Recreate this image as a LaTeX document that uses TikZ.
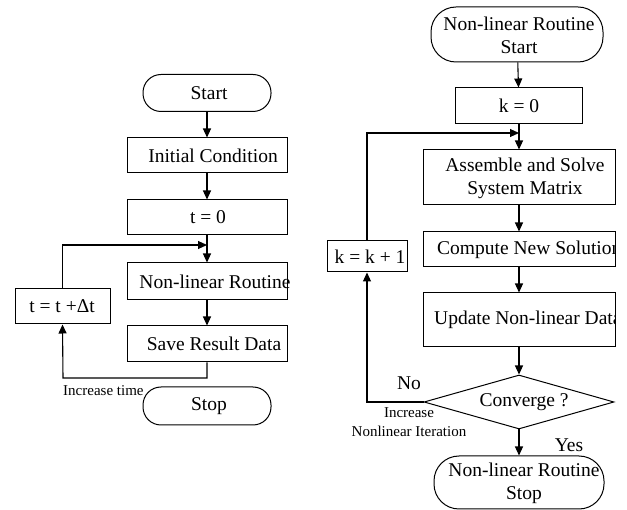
\documentclass[tikz,border=0pt]{standalone}
\usepackage{fontspec}
\setmainfont{Liberation Serif}
\usetikzlibrary{arrows.meta,shapes.geometric}
\begin{document}
\begin{tikzpicture}[x=1pt,y=-1pt,
  every node/.style={font=\fontsize{19.5}{23}\selectfont},
  box/.style={draw,line width=1pt,inner sep=0pt},
  term/.style={box,rounded corners=18pt},
  bigterm/.style={box,rounded corners=25pt},
  txt/.style={inner sep=0pt,align=center},
  small/.style={inner sep=0pt,align=center,font=\fontsize{15}{19}\selectfont},
  arr/.style={line width=1.1pt,-{Triangle[length=9pt,width=8pt]}},
  ln/.style={line width=1.1pt}]
\useasboundingbox (0,0) rectangle (627,510);
% ---------- left flow ----------
\node[term,minimum width=128pt,minimum height=37pt] (start) at (207,93) {};
\node[txt] (startT) at (209,93) {Start};
\node[box,minimum width=160pt,minimum height=35pt] (init) at (207,155.5) {};
\node[txt] (initT) at (213,155.5) {Initial Condition};
\node[box,minimum width=160pt,minimum height=35pt] (t0) at (207,217.5) {};
\node[txt] (t0T) at (208,217.5) {t = 0};
\node[box,minimum width=160pt,minimum height=37pt] (nlr) at (207,281.5) {};
\node[txt] (nlrT) at (215,281.5) {Non-linear Routine};
\node[box,minimum width=160pt,minimum height=36pt] (save) at (207,344) {};
\node[txt] (saveT) at (214,344) {Save Result Data};
\node[box,minimum width=95pt,minimum height=35pt] (tinc) at (62.5,306.5) {};
\node[txt] (tincT) at (62,306.5) {t = t +Δt};
\node[term,minimum width=128pt,minimum height=38pt] (stop) at (207,406) {};
\node[txt] (stopT) at (209,406) {Stop};
\node[small,anchor=west] (inctime) at (63,391) {Increase time};
\coordinate (fbL) at (63,378);
\coordinate (lpJ) at (207,245);
\draw[arr] (start) -- (init);
\draw[arr] (init) -- (t0);
\draw[arr] (t0) -- (nlr);
\draw[arr] (nlr) -- (save);
\draw[arr] (save.south) |- (fbL) -- (tinc.south);
\draw[arr] (tinc.north) |- (lpJ);
% ---------- right flow ----------
\node[bigterm,minimum width=172pt,minimum height=55pt] (nstart) at (517,34.5) {};
\node[txt] (nstartT) at (519,35) {Non-linear Routine\\Start};
\node[box,minimum width=127pt,minimum height=36pt] (k0) at (519,106) {};
\node[txt] (k0T) at (519,106) {k = 0};
\node[box,minimum width=192pt,minimum height=55pt] (asm) at (519,177.5) {};
\node[txt] (asmT) at (525,178) {Assemble and Solve\\System Matrix};
\node[box,minimum width=192pt,minimum height=35pt] (comp) at (519,249.5) {};
\begin{scope}
  \clip (comp.south west) rectangle (comp.north east);
  \node[txt,anchor=west] (compT) at (437,249.5) {Compute New Solution};
\end{scope}
\node[box,minimum width=192pt,minimum height=54pt] (upd) at (519,320) {};
\begin{scope}
  \clip (upd.south west) rectangle (upd.north east);
  \node[txt,anchor=west] (updT) at (434,320) {Update Non-linear Data};
\end{scope}
\node[diamond,draw,line width=1pt,inner sep=1pt,shape aspect=3.5,
      minimum width=190pt,minimum height=54pt] (conv) at (519,402) {};
\node[txt] (convT) at (524,402) {Converge ?};
\node[box,minimum width=80pt,minimum height=31pt] (kinc) at (367,256.5) {};
\node[txt] (kincT) at (370,256.5) {k = k + 1};
\node[bigterm,minimum width=170pt,minimum height=53pt] (nstop) at (519,482.5) {};
\node[txt] (nstopT) at (524,483) {Non-linear Routine\\Stop};
\node[txt] (no) at (409,383) {No};
\node[small] (incr) at (409,422) {Increase\\Nonlinear Iteration};
\node[txt] (yes) at (569,445) {Yes};
\coordinate (lpJ2) at (519,133);
\draw[arr] (nstart) -- (k0);
\draw[arr] (k0) -- (asm);
\draw[arr] (asm) -- (comp);
\draw[arr] (comp) -- (upd);
\draw[arr] (upd) -- (conv);
\draw[arr] (conv) -- (nstop);
\draw[arr] (conv.west) -| (kinc.south);
\draw[arr] (kinc.north) |- (lpJ2);
\end{tikzpicture}
\end{document}
